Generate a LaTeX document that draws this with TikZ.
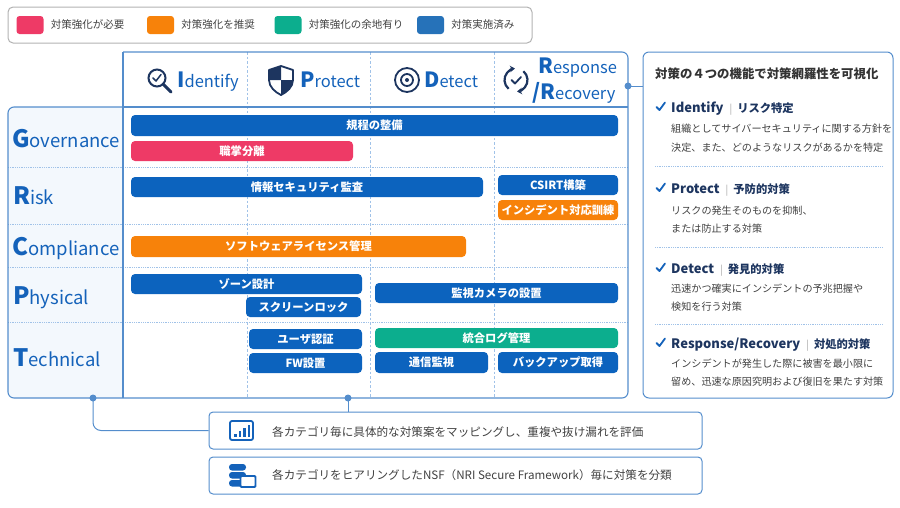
\documentclass[tikz,border=0pt]{standalone}
\usepackage{fontspec}
\setmainfont{Noto Sans CJK JP}
\usepackage{xcolor}
\usepackage{tikz}
\usetikzlibrary{positioning,arrows.meta}
\definecolor{barblue}{RGB}{12,99,190}
\definecolor{needpink}{RGB}{238,58,102}
\definecolor{recorange}{RGB}{247,130,10}
\definecolor{roomgreen}{RGB}{12,174,142}
\definecolor{doneblue}{RGB}{38,114,185}
\definecolor{frameblue}{RGB}{84,141,204}
\definecolor{gridblue}{RGB}{160,194,232}
\definecolor{labelbg}{RGB}{243,248,253}
\definecolor{catblue}{RGB}{20,98,186}
\definecolor{navy}{RGB}{29,53,95}
\definecolor{txtgray}{RGB}{64,64,64}
\newcommand{\capword}[4]{{\fontsize{#1}{#1}\selectfont\bfseries #3}{\fontsize{#2}{#2}\selectfont #4}}

\begin{document}
\begin{tikzpicture}[x=1pt,y=-1pt,
	bar/.style={rounded corners=4pt, fill=barblue, text=white, inner sep=0pt, minimum height=20pt, font=\fontsize{11.3}{11.3}\selectfont\bfseries},
	swatch/.style={rounded corners=3pt, inner sep=0pt, minimum width=27pt, minimum height=18pt},
	legtext/.style={inner sep=0pt, text=txtgray, font=\fontsize{10.5}{10.5}\selectfont},
	rowline/.style={gridblue, line width=0.8pt, densely dotted},
	colline/.style={gridblue, line width=0.8pt, dash pattern=on 2.5pt off 2pt},
	cattext/.style={inner sep=0pt, anchor=base west, text=catblue},
	headtext/.style={inner sep=0pt, anchor=base west, text=catblue},
	itemhead/.style={inner sep=0pt, anchor=base west, text=navy},
	itemdesc/.style={inner sep=0pt, anchor=base west, text=txtgray, font=\fontsize{10.1}{10.1}\selectfont},
	infobox/.style={draw=frameblue, rounded corners=4pt, line width=1pt, minimum width=493pt, minimum height=37pt, inner sep=0pt},
	infotext/.style={inner sep=0pt, anchor=base west, text=txtgray, font=\fontsize{11.6}{11.6}\selectfont},
	link/.style={frameblue, line width=1pt},
	tick/.style={catblue, line width=1.8pt, line cap=round, line join=round}]
					\useasboundingbox (0,0) rectangle (900,507);
					
					\draw[rounded corners=5pt, draw=black!30, line width=1pt] (8,7) rectangle (532,43);
					\node (swPink) [swatch, fill=needpink] at (30,25) {};
					\node (swOrange) [swatch, fill=recorange] at (160.5,25) {};
					\node (swGreen) [swatch, fill=roomgreen] at (288,25) {};
					\node (swBlue) [swatch, fill=doneblue] at (430.5,25) {};
					\node (lgPink) [legtext, right=7pt of swPink] {対策強化が必要};
					\node (lgOrange) [legtext, right=7pt of swOrange] {対策強化を推奨};
					\node (lgGreen) [legtext, right=7pt of swGreen] {対策強化の余地有り};
					\node (lgBlue) [legtext, right=7pt of swBlue] {対策実施済み};
					
					\begin{scope}
						\clip (0,0) rectangle (123,507);
						\fill[labelbg, rounded corners=6pt] (8,107) rectangle (150,398);
					\end{scope}
					\draw[rowline] (8,167) -- (628,167);
					\draw[rowline] (8,224) -- (628,224);
					\draw[rowline] (8,267) -- (628,267);
					\draw[rowline] (8,322) -- (628,322);
					\draw[colline] (247,52) -- (247,398);
					\draw[colline] (370,52) -- (370,398);
					\draw[colline] (494,52) -- (494,398);
					\draw[frameblue, line width=1.1pt, rounded corners=6pt] (123,107) -- (8,107) -- (8,398) -- (628,398) -- (628,52) -- (123,52);
					\draw[frameblue, line width=1.1pt] (123,52) -- (123,398);
					\draw[frameblue, line width=1.1pt] (123,107) -- (628,107);
					
					\begin{scope}[shift={(157,78)}, y=1pt, navy]
						\draw[line width=2pt] (0,0) circle (8.5);
						\draw[line width=3pt, line cap=round] (6.2,-6.2) -- (14,-14);
						\draw[line width=1.5pt, line cap=round, line join=round] (-4,0) -- (-1,-3) -- (4,3.5);
					\end{scope}
					\begin{scope}[shift={(281,80)}, y=1pt, navy]
						\fill (0,14) -- (0,0) -- (-12,0) -- (-12,10) -- (0,14) -- cycle;
						\fill (0,0) -- (12,0) .. controls (12,-7) and (6,-12) .. (0,-15) -- cycle;
						\draw[line width=1.8pt, line join=round] (-12,10) -- (0,14) -- (12,10) -- (12,0) .. controls (12,-7) and (6,-12) .. (0,-15) .. controls (-6,-12) and (-12,-7) .. (-12,0) -- cycle;
					\end{scope}
					\begin{scope}[shift={(407,80)}, y=1pt, navy]
						\draw[line width=1.8pt] (0,0) circle (12);
						\draw[line width=1.8pt] (0,0) circle (6);
						\fill (0,0) circle (2);
					\end{scope}
					\begin{scope}[shift={(516,80)}, y=1pt, navy]
						\draw[line width=2.2pt, -{Stealth[length=5pt, width=6.5pt]}] (230:11.5) arc[start angle=230, end angle=95, radius=11.5];
						\draw[line width=2.2pt, -{Stealth[length=5pt, width=6.5pt]}] (50:11.5) arc[start angle=50, end angle=-85, radius=11.5];
						\draw[line width=1.8pt, line cap=round, line join=round] (-4.5,0) -- (-1,-3.5) -- (5,3);
					\end{scope}
					
					\node (hIdentify) [headtext] at (177,87) {\capword{21}{16.5}{I}{dentify}};
					\node (hProtect) [headtext] at (300,87) {\capword{21}{16.5}{P}{rotect}};
					\node (hDetect) [headtext] at (424,87) {\capword{21}{16.5}{D}{etect}};
					\node (hResponse) [headtext] at (538,73) {\capword{21}{16.5}{R}{esponse}};
					\node (hRecovery) [headtext] at (532,99) {\capword{21}{16.5}{/R}{ecovery}};
					
					\node (cGov) [cattext] at (12,147) {\capword{24}{18.5}{G}{overnance}};
					\node (cRisk) [cattext] at (13,204) {\capword{24}{18.5}{R}{isk}};
					\node (cComp) [cattext] at (12,255) {\capword{24}{18.5}{C}{ompliance}};
					\node (cPhys) [cattext] at (13,304) {\capword{24}{18.5}{P}{hysical}};
					\node (cTech) [cattext] at (13,366) {\capword{24}{18.5}{T}{echnical}};
					
					\node (kitei) [bar, minimum width=487pt, minimum height=21pt] at (374.5,125.5) {規程の整備};
					\node (bunri) [bar, fill=needpink, minimum width=222pt] at (242,151) {職掌分離};
					\node (kansa) [bar, minimum width=352pt] at (307,187) {情報セキュリティ監査};
					\node (csirt) [bar, minimum width=120pt] at (558,185) {CSIRT構築};
					\node (kunren) [bar, fill=recorange, minimum width=120pt] at (558,210) {インシデント対応訓練};
					\node (license) [bar, fill=recorange, minimum width=335pt, minimum height=21pt] at (298.5,246.5) {ソフトウェアライセンス管理};
					\node (zone) [bar, minimum width=231pt] at (246.5,284) {ゾーン設計};
					\node (lock) [bar, minimum width=115pt] at (303.5,307) {スクリーンロック};
					\node (camera) [bar, minimum width=243pt] at (496.5,293) {監視カメラの設置};
					\node (auth) [bar, minimum width=113pt] at (305.5,339) {ユーザ認証};
					\node (fw) [bar, minimum width=113pt] at (305.5,363) {FW設置};
					\node (log) [bar, fill=roomgreen, minimum width=243pt] at (496.5,338) {統合ログ管理};
					\node (tsushin) [bar, minimum width=113pt, minimum height=21pt] at (431.5,362.5) {通信監視};
					\node (backup) [bar, minimum width=120pt, minimum height=21pt] at (558,362.5) {バックアップ取得};
					
					\node (panel) [draw=frameblue, rounded corners=6pt, line width=1pt, minimum width=250pt, minimum height=346pt, inner sep=0pt] at (768,225) {};
					\coordinate (mR) at (628,86);
					\fill[frameblue] (mR) circle (3.5);
					\draw[link] (mR) -- (mR -| panel.west);
					\node (pTitle) [itemhead, text=txtgray!80!black, font=\fontsize{12.4}{12.4}\selectfont\bfseries] at (655,78) {対策の４つの機能で対策網羅性を可視化};
					
					\draw[tick] (656.5,107) -- (659.5,110) -- (665,102.5);
					\node (iIdentify) [itemhead] at (671,112) {{\fontsize{13}{13}\selectfont\bfseries Identify}\hspace{6pt}{\color{black!35}|}\hspace{5pt}{\fontsize{11.3}{11.3}\selectfont\bfseries リスク特定}};
					\node (dIdentifyA) [itemdesc] at (671,132) {組織としてサイバーセキュリティに関する方針を};
					\node (dIdentifyB) [itemdesc] at (671,151) {決定、また、どのようなリスクがあるかを特定};
					\draw[rowline] (655,166) -- (882,166);
					\draw[tick] (656.5,188) -- (659.5,191) -- (665,183.5);
					\node (iProtect) [itemhead] at (671,193) {{\fontsize{13}{13}\selectfont\bfseries Protect}\hspace{6pt}{\color{black!35}|}\hspace{5pt}{\fontsize{11.3}{11.3}\selectfont\bfseries 予防的対策}};
					\node (dProtectA) [itemdesc] at (671,214) {リスクの発生そのものを抑制、};
					\node (dProtectB) [itemdesc] at (671,232) {または防止する対策};
					\draw[rowline] (655,247) -- (882,247);
					\draw[tick] (656.5,268) -- (659.5,271) -- (665,263.5);
					\node (iDetect) [itemhead] at (671,273) {{\fontsize{13}{13}\selectfont\bfseries Detect}\hspace{6pt}{\color{black!35}|}\hspace{5pt}{\fontsize{11.3}{11.3}\selectfont\bfseries 発見的対策}};
					\node (dDetectA) [itemdesc] at (671,292) {迅速かつ確実にインシデントの予兆把握や};
					\node (dDetectB) [itemdesc] at (671,310) {検知を行う対策};
					\draw[rowline] (655,324) -- (882,324);
					\draw[tick] (656.5,343) -- (659.5,346) -- (665,338.5);
					\node (iResponse) [itemhead] at (671,348) {{\fontsize{13}{13}\selectfont\bfseries Response/Recovery}\hspace{6pt}{\color{black!35}|}\hspace{5pt}{\fontsize{11.3}{11.3}\selectfont\bfseries 対処的対策}};
					\node (dResponseA) [itemdesc] at (671,367) {インシデントが発生した際に被害を最小限に};
					\node (dResponseB) [itemdesc] at (671,385) {留め、迅速な原因究明および復旧を果たす対策};
					
					\node (mapBox) [infobox] at (455.5,430.5) {};
					\node (catBox) [infobox] at (455.5,475.5) {};
					\coordinate (dotL) at (93,398);
					\coordinate (dotR) at (348,398);
					\fill[frameblue] (dotL) circle (3.5);
					\fill[frameblue] (dotR) circle (3.5);
					\draw[link, rounded corners=8pt] (dotL) |- (mapBox.west);
					\draw[link] (dotR) -- (dotR |- mapBox.north);
					
					\draw[catblue, line width=1.8pt, rounded corners=2pt] (230,421) rectangle (253,440);
					\fill[catblue] (234,434) rectangle (236.5,436.5);
					\fill[catblue] (238.5,431) rectangle (241,436.5);
					\fill[catblue] (243,428) rectangle (245.5,436.5);
					\fill[catblue] (247.5,425) rectangle (250,436.5);
					\fill[catblue, rounded corners=3pt] (229,464) rectangle (246,470.5);
					\fill[catblue, rounded corners=3pt] (229,472) rectangle (246,478.5);
					\fill[catblue, rounded corners=3pt] (229,480) rectangle (246,486.5);
					\draw[catblue, fill=white, line width=1.8pt, rounded corners=1pt] (240.5,476) rectangle (255.5,487);
					\node (mapText) [infotext] at (272,436) {各カテゴリ毎に具体的な対策案をマッピングし、重複や抜け漏れを評価};
					\node (catText) [infotext] at (272,479.5) {各カテゴリをヒアリングしたNSF（NRI Secure Framework）毎に対策を分類};
				\end{tikzpicture}
\end{document}
